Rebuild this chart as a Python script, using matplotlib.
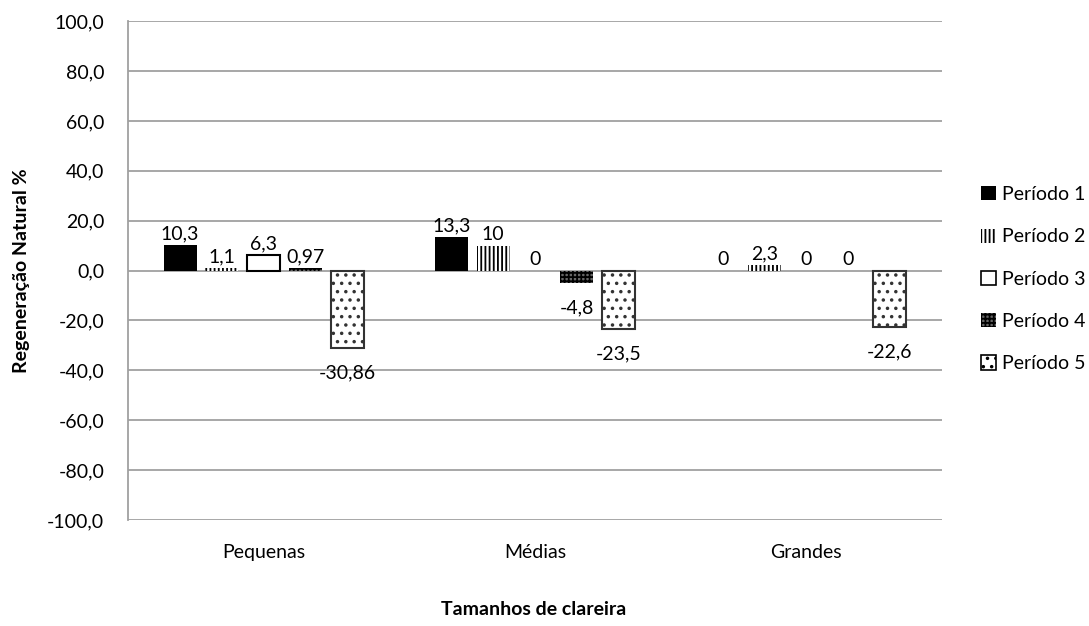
import numpy as np
import matplotlib.pyplot as plt
from matplotlib.patches import Patch

# dados
categorias = ['Pequenas', 'Médias', 'Grandes']
periodos = ['Período 1', 'Período 2', 'Período 3', 'Período 4', 'Período 5']
periodo1 = [10.3, 13.3, 0]
periodo2 = [1.1, 10, 2.3]
periodo3 = [6.3, 0, 0]
periodo4 = [0.97, -4.8, 0]
periodo5 = [-30.86, -23.5, -22.6]
yticks = [-100, -80, -60, -40, -20, 0, 20, 40, 60, 80, 100]

series = [periodo1, periodo2, periodo3, periodo4, periodo5]

plt.rcParams['font.family'] = ['Lato', 'DejaVu Sans']
plt.rcParams['hatch.linewidth'] = 1.3

# estilo de cada periodo
estilos = [
    dict(facecolor='black', hatch=None, edgecolor='black', linewidth=0),
    dict(facecolor='white', hatch='||||', edgecolor='black', linewidth=0),
    dict(facecolor='white', hatch=None, edgecolor='black', linewidth=1.5),
    dict(facecolor='#666666', hatch='++++', edgecolor='black', linewidth=0),
    dict(facecolor='white', hatch='..', edgecolor='#333333', linewidth=1.5),
]

fs = 14

fig = plt.figure(figsize=(10.89, 6.26), dpi=100)
ax = fig.add_axes([0.1175, 0.1693, 0.7475, 0.797])

x = np.arange(len(categorias))
passo = 0.154
largura = 0.1216

def fmt(v):
    return f"{v:g}".replace('.', ',')

for i, vals in enumerate(series):
    pos = x + (i - 2) * passo
    bars = ax.bar(pos, vals, width=largura, zorder=3, **estilos[i])
    for b, v in zip(bars, vals):
        if v == 0:
            b.set_linewidth(0)
    for xp, v in zip(pos, vals):
        if v >= 0:
            ax.annotate(fmt(v), (xp, v), xytext=(0, 2), textcoords='offset points',
                        ha='center', va='bottom', fontsize=fs)
        else:
            ax.annotate(fmt(v), (xp, v), xytext=(0, -12), textcoords='offset points',
                        ha='center', va='top', fontsize=fs)

ax.set_xlim(-0.5, 2.5)
ax.set_ylim(-100, 100)
ax.set_yticks(yticks)
ax.set_yticklabels([f"{t:.1f}".replace('.', ',') for t in yticks], fontsize=fs)
ax.set_xticks(x)
ax.set_xticklabels(categorias, fontsize=fs)
ax.tick_params(axis='y', length=0, pad=17)
ax.tick_params(axis='x', length=0, pad=17)

ax.yaxis.grid(True, color='#a0a0a0', linewidth=1.3, zorder=0)
ax.set_axisbelow(True)
for s in ['top', 'right', 'bottom']:
    ax.spines[s].set_visible(False)
ax.spines['left'].set_color('#a0a0a0')
ax.spines['left'].set_linewidth(1.3)

fig.text(0.02, 0.5675, 'Regeneração Natural %', rotation=90, ha='center', va='center',
         fontsize=fs, fontweight='bold')
fig.text(0.49, 0.027, 'Tamanhos de clareira', ha='center', va='center',
         fontsize=fs, fontweight='bold')

handles = [Patch(**estilos[i]) for i in range(5)]
handles[2] = Patch(facecolor='white', edgecolor='black', linewidth=1.2)
handles[4] = Patch(facecolor='white', hatch='..', edgecolor='black', linewidth=1.2)
fig.legend(handles, periodos, loc='center left', bbox_to_anchor=(0.885, 0.554),
           frameon=False, fontsize=fs, handlelength=0.75, handleheight=0.75,
           handletextpad=0.3, labelspacing=1.3)

fig.savefig('out.png', dpi=100)
